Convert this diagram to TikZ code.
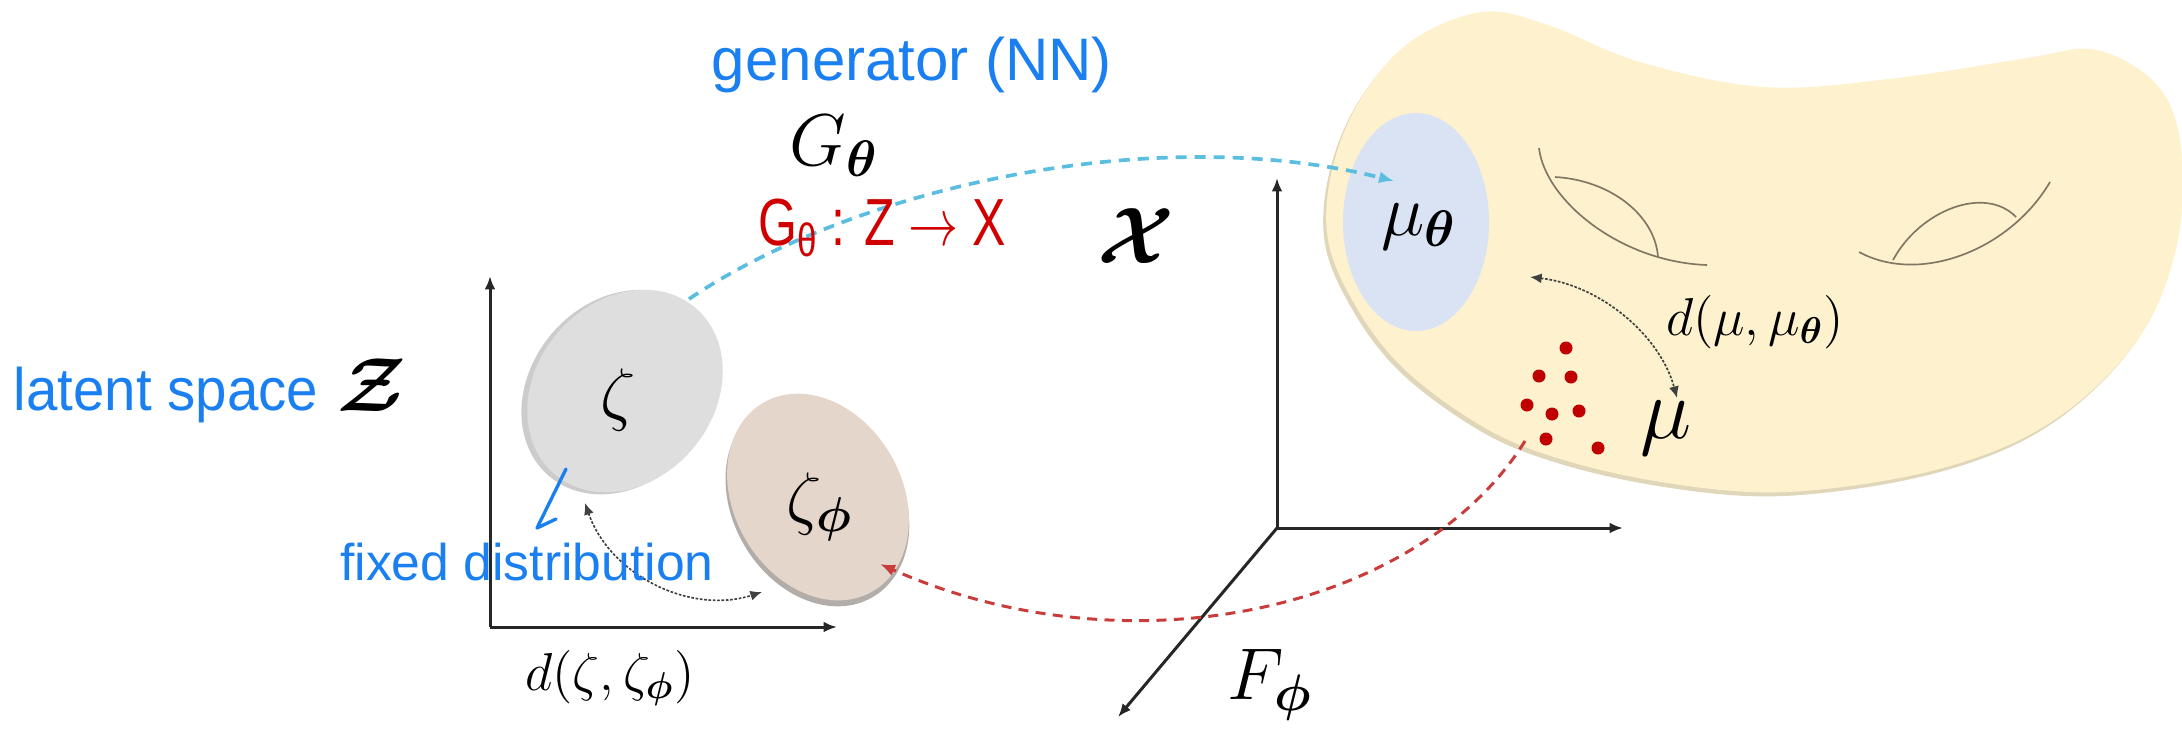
\documentclass[tikz,border=0pt]{standalone}
\usepackage{fix-cm}
\usepackage{amsmath}
\usepackage{bm}
\usepackage{fontspec}
\usepackage{graphicx}
\newfontfamily\hand{Liberation Sans}
\usetikzlibrary{arrows.meta}
\definecolor{handblue}{HTML}{1A7FF0}
\definecolor{handred}{HTML}{D00000}
\definecolor{skydash}{HTML}{5BBDE0}
\definecolor{reddash}{HTML}{C83C3C}
\definecolor{dotred}{HTML}{C00000}
\definecolor{blobfill}{HTML}{FDF1CE}
\definecolor{blobedge}{HTML}{D8CCA8}
\definecolor{grayfill}{HTML}{DEDEDE}
\definecolor{pinkfill}{HTML}{E5D6CB}
\definecolor{mufill}{HTML}{DAE3F3}
\definecolor{eyeline}{HTML}{7F7763}
\tikzset{
  axisline/.style={line width=0.9pt, draw=black!85, -{Latex[length=4pt,width=3.2pt]}},
  skyconn/.style={skydash, line width=1.1pt, dash pattern=on 3.3pt off 2.4pt, -{Latex[length=4.5pt,width=3.6pt]}},
  redconn/.style={reddash, line width=0.9pt, dash pattern=on 3pt off 2.2pt, -{Latex[length=4.5pt,width=3.6pt]}},
  dotconn/.style={black!75, line width=0.5pt, dash pattern=on 0.8pt off 0.5pt, {Latex[length=3.5pt,width=3pt]}-{Latex[length=3.5pt,width=3pt]}},
  eye/.style={eyeline, line width=0.5pt},
  lbl/.style={inner sep=0pt, font=\fontsize{#1}{#1}\selectfont},
  handtxt/.style={inner sep=0pt, text=handblue, font=\hand\fontsize{#1}{#1}\selectfont},
  reddot/.style={fill=dotred}
}
\def\blobpts{(1482,12) (1548,25) (1640,62) (1764,87) (1889,79) (2027,58) (2090,49) (2140,70)
 (2170,105) (2182,160) (2178,240) (2150,320) (2100,383) (2033,433) (1950,466) (1850,486)
 (1750,492) (1633,477) (1533,450) (1467,417) (1400,365) (1355,305) (1328,240) (1332,170)
 (1360,100) (1410,42)}
\begin{document}
\begin{tikzpicture}[x=0.3pt,y=-0.3pt]
\useasboundingbox (0,0) rectangle (2182,728);

% ---- yellow manifold blob ----
\fill[blobedge, opacity=0.8, shift={(-3,4)}] plot[smooth cycle, tension=0.6] coordinates {\blobpts};
\fill[blobfill] plot[smooth cycle, tension=0.6] coordinates {\blobpts};

% holes
\draw[eye] (1539,148) .. controls (1545,200) and (1620,262) .. (1707,265);
\draw[eye] (1555,177) .. controls (1610,180) and (1655,215) .. (1658,257);
\draw[eye] (1859,252) .. controls (1920,285) and (2010,250) .. (2050,182);
\draw[eye] (1893,260) .. controls (1920,210) and (1985,185) .. (2016,217);

% mu_theta ellipse
\fill[mufill] (1416,222) ellipse [x radius=73, y radius=109];
\node[lbl=22] (mutheta) at (1419,227) {$\mu_{\bm\theta}$};

% data points
\foreach \p in {(1566,348),(1539,376),(1571,377),(1527,405),(1552,414),(1579,411),(1546,439),(1598,448)}
  \fill[reddot] \p circle [radius=6.5];
\node[lbl=26] (mu) at (1666,428) {$\mu$};
\node[lbl=16] (dmu) at (1755,322) {$d(\mu,\mu_{\bm\theta})$};

% ---- right axes ----
\coordinate (O2) at (1277,528);
\coordinate (Y2) at (1277,178);
\coordinate (X2) at (1623,528);
\coordinate (Z2) at (1118,717);
\draw[axisline] (O2) -- (Y2);
\draw[axisline] (O2) -- (X2);
\draw[axisline] (O2) -- (Z2);
\node[lbl=22] (F) at (1270,685) {$F_{\bm\phi}$};
\node[lbl=24] (Xcal) at (1136,236) {$\bm{\mathcal{X}}$};

% ---- left axes ----
\coordinate (O1) at (490,627);
\coordinate (Y1) at (490,276);
\coordinate (X1) at (837,627);
\draw[axisline] (O1) -- (Y1);
\draw[axisline] (O1) -- (X1);
\node[lbl=16] (dz) at (610,678) {$d(\zeta,\zeta_{\bm\phi})$};

% ellipses zeta and zeta_phi
\fill[black!40, opacity=0.5, rotate around={-40:(625,391)}] (622,395) ellipse [x radius=90, y radius=110];
\fill[grayfill, rotate around={-40:(625,391)}] (625,391) ellipse [x radius=89, y radius=109];
\node[lbl=21] (zeta) at (618,400) {$\zeta$};
\fill[black!45!pinkfill, opacity=0.6, rotate around={30:(818,497)}] (815,501) ellipse [x radius=85, y radius=110];
\fill[pinkfill, rotate around={30:(818,497)}] (818,497) ellipse [x radius=84, y radius=109];
\node[lbl=21] (zetaphi) at (820,507) {$\zeta_{\bm\phi}$};

% ---- connectors ----
\coordinate (zs) at (689,299);
\coordinate (mt) at (1394,181);
\draw[skyconn] (zs) .. controls (850,190) and (1150,120) .. (mt);
\coordinate (ms) at (1525,441);
\coordinate (zp) at (880,564);
\draw[redconn] (ms) .. controls (1420,610) and (1130,675) .. (zp);
\coordinate (da) at (585,503);
\coordinate (db) at (762,592);
\draw[dotconn] (da) .. controls (610,575) and (690,615) .. (db);
\coordinate (ma) at (1530,277);
\coordinate (mb) at (1677,398);
\draw[dotconn] (ma) .. controls (1600,285) and (1660,335) .. (mb);

% ---- labels ----
\node[lbl=22] (G) at (834,146) {$G_{\bm\theta}$};
\node[handtxt=18] (gen) at (912,65) {generator (NN)};
\node[inner sep=0pt, text=handred, font=\hand\fontsize{20}{20}\selectfont] (gmap) at (882,228)
  {\scalebox{0.75}[1]{G\textsubscript{θ} : Z $\rightarrow$ X}};
\node[handtxt=18] (latent) at (166,395) {\scalebox{0.94}[1]{latent space}};
\node[lbl=23] (Zcal) at (372,385) {$\bm{\mathcal{Z}}$};
\node[handtxt=15.5] (fixed) at (527,562) {fixed distribution};
\coordinate (fa) at (566,469);
\coordinate (fb) at (537,528);
\coordinate (fc) at (556,519);
\draw[handblue, line width=1pt, line cap=round, line join=round] (fa) -- (fb) -- (fc);
\end{tikzpicture}
\end{document}
